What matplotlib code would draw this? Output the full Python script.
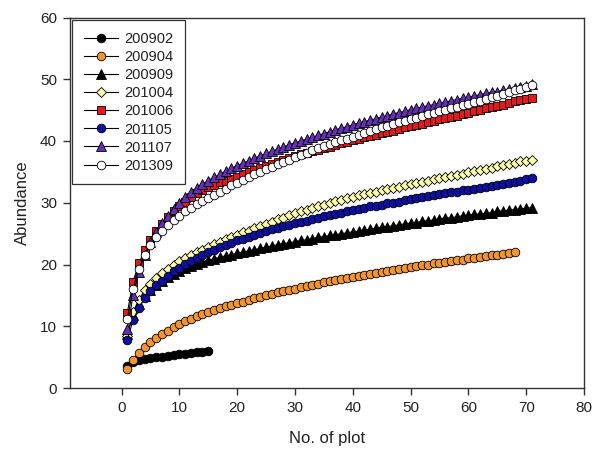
import matplotlib
matplotlib.use("Agg")
import matplotlib.pyplot as plt

plt.rcParams['font.family'] = ['Liberation Sans', 'DejaVu Sans']

labels = ["200902", "200904", "200909", "201004", "201006", "201105", "201107", "201309"]

s200902 = [3.6, 4.2, 4.5, 4.7, 4.9, 5.0, 5.1, 5.25, 5.35, 5.45, 5.55, 5.65, 5.75, 5.85, 5.95]

s200904 = [3.0, 4.5, 5.7, 6.6, 7.4, 8.1, 8.7, 9.3, 9.8, 10.3,
           10.8, 11.2, 11.6, 12.0, 12.3, 12.6, 12.9, 13.2, 13.5, 13.8,
           14.0, 14.3, 14.5, 14.8, 15.0, 15.2, 15.5, 15.7, 15.9, 16.1,
           16.3, 16.5, 16.7, 16.9, 17.1, 17.3, 17.5, 17.6, 17.8, 18.0,
           18.2, 18.3, 18.5, 18.7, 18.8, 19.0, 19.1, 19.3, 19.4, 19.6,
           19.7, 19.9, 20.0, 20.2, 20.3, 20.4, 20.6, 20.7, 20.8, 21.0,
           21.1, 21.2, 21.4, 21.5, 21.6, 21.7, 21.9, 22.0]

s200909 = [8.8, 11.8, 13.6, 14.9, 15.9, 16.7, 17.4, 18.0, 18.5, 19.0,
           19.4, 19.8, 20.1, 20.4, 20.7, 20.9, 21.2, 21.4, 21.6, 21.8,
           22.0, 22.2, 22.4, 22.6, 22.8, 23.0, 23.2, 23.4, 23.5, 23.7,
           23.9, 24.0, 24.2, 24.4, 24.5, 24.7, 24.8, 25.0, 25.1, 25.3,
           25.4, 25.6, 25.7, 25.9, 26.0, 26.1, 26.3, 26.4, 26.6, 26.7,
           26.8, 27.0, 27.1, 27.2, 27.4, 27.5, 27.6, 27.7, 27.9, 28.0,
           28.1, 28.2, 28.3, 28.4, 28.6, 28.7, 28.8, 28.9, 29.0, 29.1, 29.2]

s201004 = [8.5, 12.3, 14.3, 15.8, 16.9, 17.8, 18.6, 19.3, 19.9, 20.5,
           21.0, 21.5, 22.0, 22.4, 22.9, 23.3, 23.7, 24.1, 24.4, 24.8,
           25.2, 25.5, 25.9, 26.2, 26.6, 26.9, 27.3, 27.6, 28.0, 28.3,
           28.6, 28.9, 29.2, 29.5, 29.7, 30.0, 30.3, 30.5, 30.8, 31.0,
           31.2, 31.4, 31.6, 31.8, 32.0, 32.2, 32.4, 32.6, 32.8, 33.0,
           33.2, 33.4, 33.6, 33.8, 34.0, 34.2, 34.3, 34.5, 34.7, 34.9,
           35.1, 35.3, 35.5, 35.7, 35.9, 36.1, 36.3, 36.5, 36.7, 36.8, 37.0]

s201006 = [12.2, 17.2, 20.2, 22.3, 24.0, 25.4, 26.6, 27.7, 28.6, 29.5,
           30.2, 30.9, 31.5, 32.0, 32.5, 32.9, 33.3, 33.6, 33.9, 34.2,
           34.6, 34.9, 35.3, 35.6, 35.9, 36.3, 36.6, 36.9, 37.3, 37.6,
           37.9, 38.1, 38.4, 38.6, 38.9, 39.1, 39.4, 39.6, 39.9, 40.1,
           40.3, 40.6, 40.8, 41.0, 41.3, 41.5, 41.7, 41.9, 42.2, 42.4,
           42.6, 42.8, 43.0, 43.3, 43.5, 43.7, 43.9, 44.1, 44.4, 44.6,
           44.8, 45.0, 45.3, 45.5, 45.7, 45.9, 46.1, 46.4, 46.6, 46.8, 47.0]

s201105 = [7.8, 11.0, 13.0, 14.5, 15.7, 16.6, 17.4, 18.2, 18.9, 19.5,
           20.1, 20.6, 21.1, 21.6, 22.0, 22.4, 22.8, 23.2, 23.5, 23.9,
           24.2, 24.5, 24.8, 25.1, 25.4, 25.7, 25.9, 26.2, 26.4, 26.7,
           26.9, 27.1, 27.4, 27.6, 27.8, 28.0, 28.2, 28.4, 28.6, 28.8,
           29.0, 29.2, 29.4, 29.5, 29.7, 29.9, 30.0, 30.2, 30.4, 30.6,
           30.8, 30.9, 31.1, 31.2, 31.4, 31.5, 31.7, 31.8, 32.0, 32.1,
           32.3, 32.4, 32.6, 32.7, 32.9, 33.0, 33.2, 33.4, 33.6, 33.8, 34.0]

s201107 = [9.6, 15.0, 18.8, 21.6, 23.6, 25.3, 26.7, 27.9, 29.0, 30.0,
           30.9, 31.7, 32.4, 33.0, 33.6, 34.1, 34.6, 35.1, 35.6, 36.0,
           36.4, 36.8, 37.2, 37.6, 38.0, 38.3, 38.7, 39.0, 39.4, 39.7,
           40.0, 40.3, 40.6, 40.9, 41.2, 41.5, 41.8, 42.1, 42.3, 42.6,
           42.9, 43.1, 43.4, 43.6, 43.9, 44.1, 44.4, 44.6, 44.8, 45.1,
           45.3, 45.5, 45.7, 45.9, 46.1, 46.3, 46.5, 46.7, 46.9, 47.1,
           47.3, 47.5, 47.7, 47.9, 48.0, 48.2, 48.4, 48.6, 48.7, 48.9, 49.2]

s201309 = [11.2, 16.1, 19.3, 21.5, 23.1, 24.4, 25.5, 26.4, 27.2, 27.9,
           28.6, 29.2, 29.8, 30.3, 30.8, 31.3, 31.8, 32.3, 32.8, 33.2,
           33.7, 34.1, 34.6, 35.0, 35.4, 35.8, 36.2, 36.6, 37.0, 37.4,
           37.8, 38.1, 38.5, 38.8, 39.2, 39.5, 39.8, 40.1, 40.4, 40.7,
           41.0, 41.3, 41.6, 41.9, 42.2, 42.5, 42.8, 43.0, 43.3, 43.6,
           43.8, 44.1, 44.3, 44.6, 44.8, 45.1, 45.3, 45.5, 45.8, 46.0,
           46.3, 46.5, 46.8, 47.1, 47.3, 47.6, 47.9, 48.2, 48.5, 48.8, 49.1]

series = [s200902, s200904, s200909, s201004, s201006, s201105, s201107, s201309]
markers = ['o', 'o', '^', 'D', 's', 'o', '^', 'o']
facecolors = ['black', '#F0952F', 'black', '#FFFFB0', '#E3191C', '#0E0EA0', '#6530B8', 'white']
msizes = [6.2, 6.2, 6.8, 5.6, 5.8, 6.2, 6.8, 6.2]

fig = plt.figure(figsize=(6, 4.5), dpi=100)
ax = fig.add_axes([69.5 / 600, 1 - 388 / 450, (584 - 69.5) / 600, (388 - 17.5) / 450])

for lab, ys, m, fc, ms in zip(labels, series, markers, facecolors, msizes):
    xs = list(range(1, len(ys) + 1))
    ax.plot(xs, ys, color='black', lw=0.8, marker=m, markersize=ms,
            markerfacecolor=fc, markeredgecolor='black', markeredgewidth=0.6,
            label=lab)

ax.set_xlim(-9, 80)
ax.set_ylim(0, 60)
ax.set_xticks(range(0, 81, 10))
ax.set_yticks(range(0, 61, 10))
ax.tick_params(direction='out', length=5, width=1, labelsize=11, colors='#333333',
               labelcolor='#222222', top=False, right=False, pad=4)
for sp in ax.spines.values():
    sp.set_color('#333333')
    sp.set_linewidth(1.0)

ax.set_xlabel("No. of plot", fontsize=12, color='#222222', labelpad=12)
ax.set_ylabel("Abundance", fontsize=12, color='#222222', labelpad=7)

leg = ax.legend(loc='upper left', fontsize=10.5, frameon=True, fancybox=False,
                edgecolor='black', borderaxespad=0.2, handlelength=2.3,
                labelspacing=0.28, borderpad=0.8, handletextpad=0.45)
leg.get_frame().set_linewidth(0.9)
for t in leg.get_texts():
    t.set_color('#222222')

fig.savefig("out.png", dpi=100)
